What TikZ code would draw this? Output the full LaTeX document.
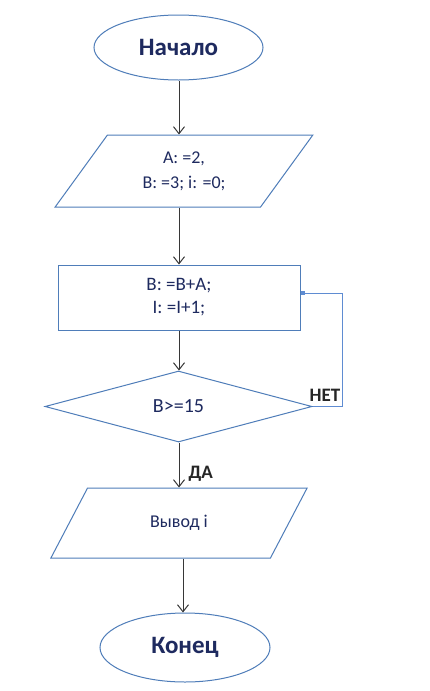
\documentclass[tikz,border=0pt]{standalone}
\usepackage{fontspec}
\setmainfont{Carlito}
\usetikzlibrary{shapes.geometric,arrows.meta}
\definecolor{shapeline}{RGB}{79,125,185}
\definecolor{txt}{RGB}{30,42,95}
\definecolor{arrowc}{RGB}{55,55,55}
\definecolor{loopc}{RGB}{95,140,210}
\tikzset{
  term/.style={ellipse, draw=shapeline, line width=1pt, inner sep=0pt, text=txt, font=\fontsize{25}{27}\selectfont\bfseries},
  io/.style={trapezium, trapezium stretches=true, draw=shapeline, line width=1pt, inner sep=0pt, text=txt, align=center},
  proc/.style={rectangle, draw=shapeline, line width=1pt, inner sep=0pt, text=txt, align=center, font=\fontsize{19}{23}\selectfont},
  cond/.style={diamond, draw=shapeline, line width=1pt, inner sep=0pt, text=txt, font=\fontsize{20}{22}\selectfont},
  flow/.style={draw=arrowc, line width=1pt, -{Straight Barb[length=7pt,width=11pt]}},
  loopline/.style={draw=loopc, line width=1pt, -{Square[length=4pt,width=4pt]}},
  lbl/.style={text=black!85, font=\fontsize{19}{21}\selectfont\bfseries, inner sep=0pt}
}
\begin{document}
\begin{tikzpicture}[x=1pt,y=-1pt]
\useasboundingbox[fill=white] (0,0) rectangle (430,691);
\node[term, minimum width=169pt, minimum height=65pt] (start) at (178.5,47.5) {Начало};
\node[io, trapezium left angle=54, trapezium right angle=126, minimum width=258pt, minimum height=72pt, font=\fontsize{18}{25}\selectfont] (init) at (184,171) {A: =2,\\B: =3; i: =0;};
\node[proc, minimum width=242pt, minimum height=65pt] (body) at (179,297.5) {B: =B+A;\\I: =I+1;};
\node[cond, minimum width=267pt, minimum height=71pt] (test) at (178.5,406.5) {B>=15};
\node[io, trapezium left angle=53, trapezium right angle=127, minimum width=258pt, minimum height=70pt, font=\fontsize{18}{20}\selectfont] (out) at (179,523) {Вывод i};
\node[term, minimum width=170pt, minimum height=69pt] (stop) at (185,647.5) {Конец};

\coordinate (c1) at (179,0);
\coordinate (c2) at (183,0);
\draw[flow] (start.south -| c1) -- (init.north -| c1);
\draw[flow] (init.south -| c1) -- (body.north -| c1);
\draw[flow] (body.south -| c1) -- (test.north -| c1);
\draw[flow] (test.south -| c1) -- (out.north -| c1) node[lbl, pos=0.7, right=9pt] (yes) {ДА};
\draw[flow] (out.south -| c2) -- (stop.north -| c2);
\coordinate (loopr) at (342,406.5);
\draw[loopline] (test.east) -- (loopr) |- ([yshift=4.5pt]body.east);
\node[lbl, anchor=south] (no) at (325,402) {НЕТ};
\end{tikzpicture}
\end{document}
